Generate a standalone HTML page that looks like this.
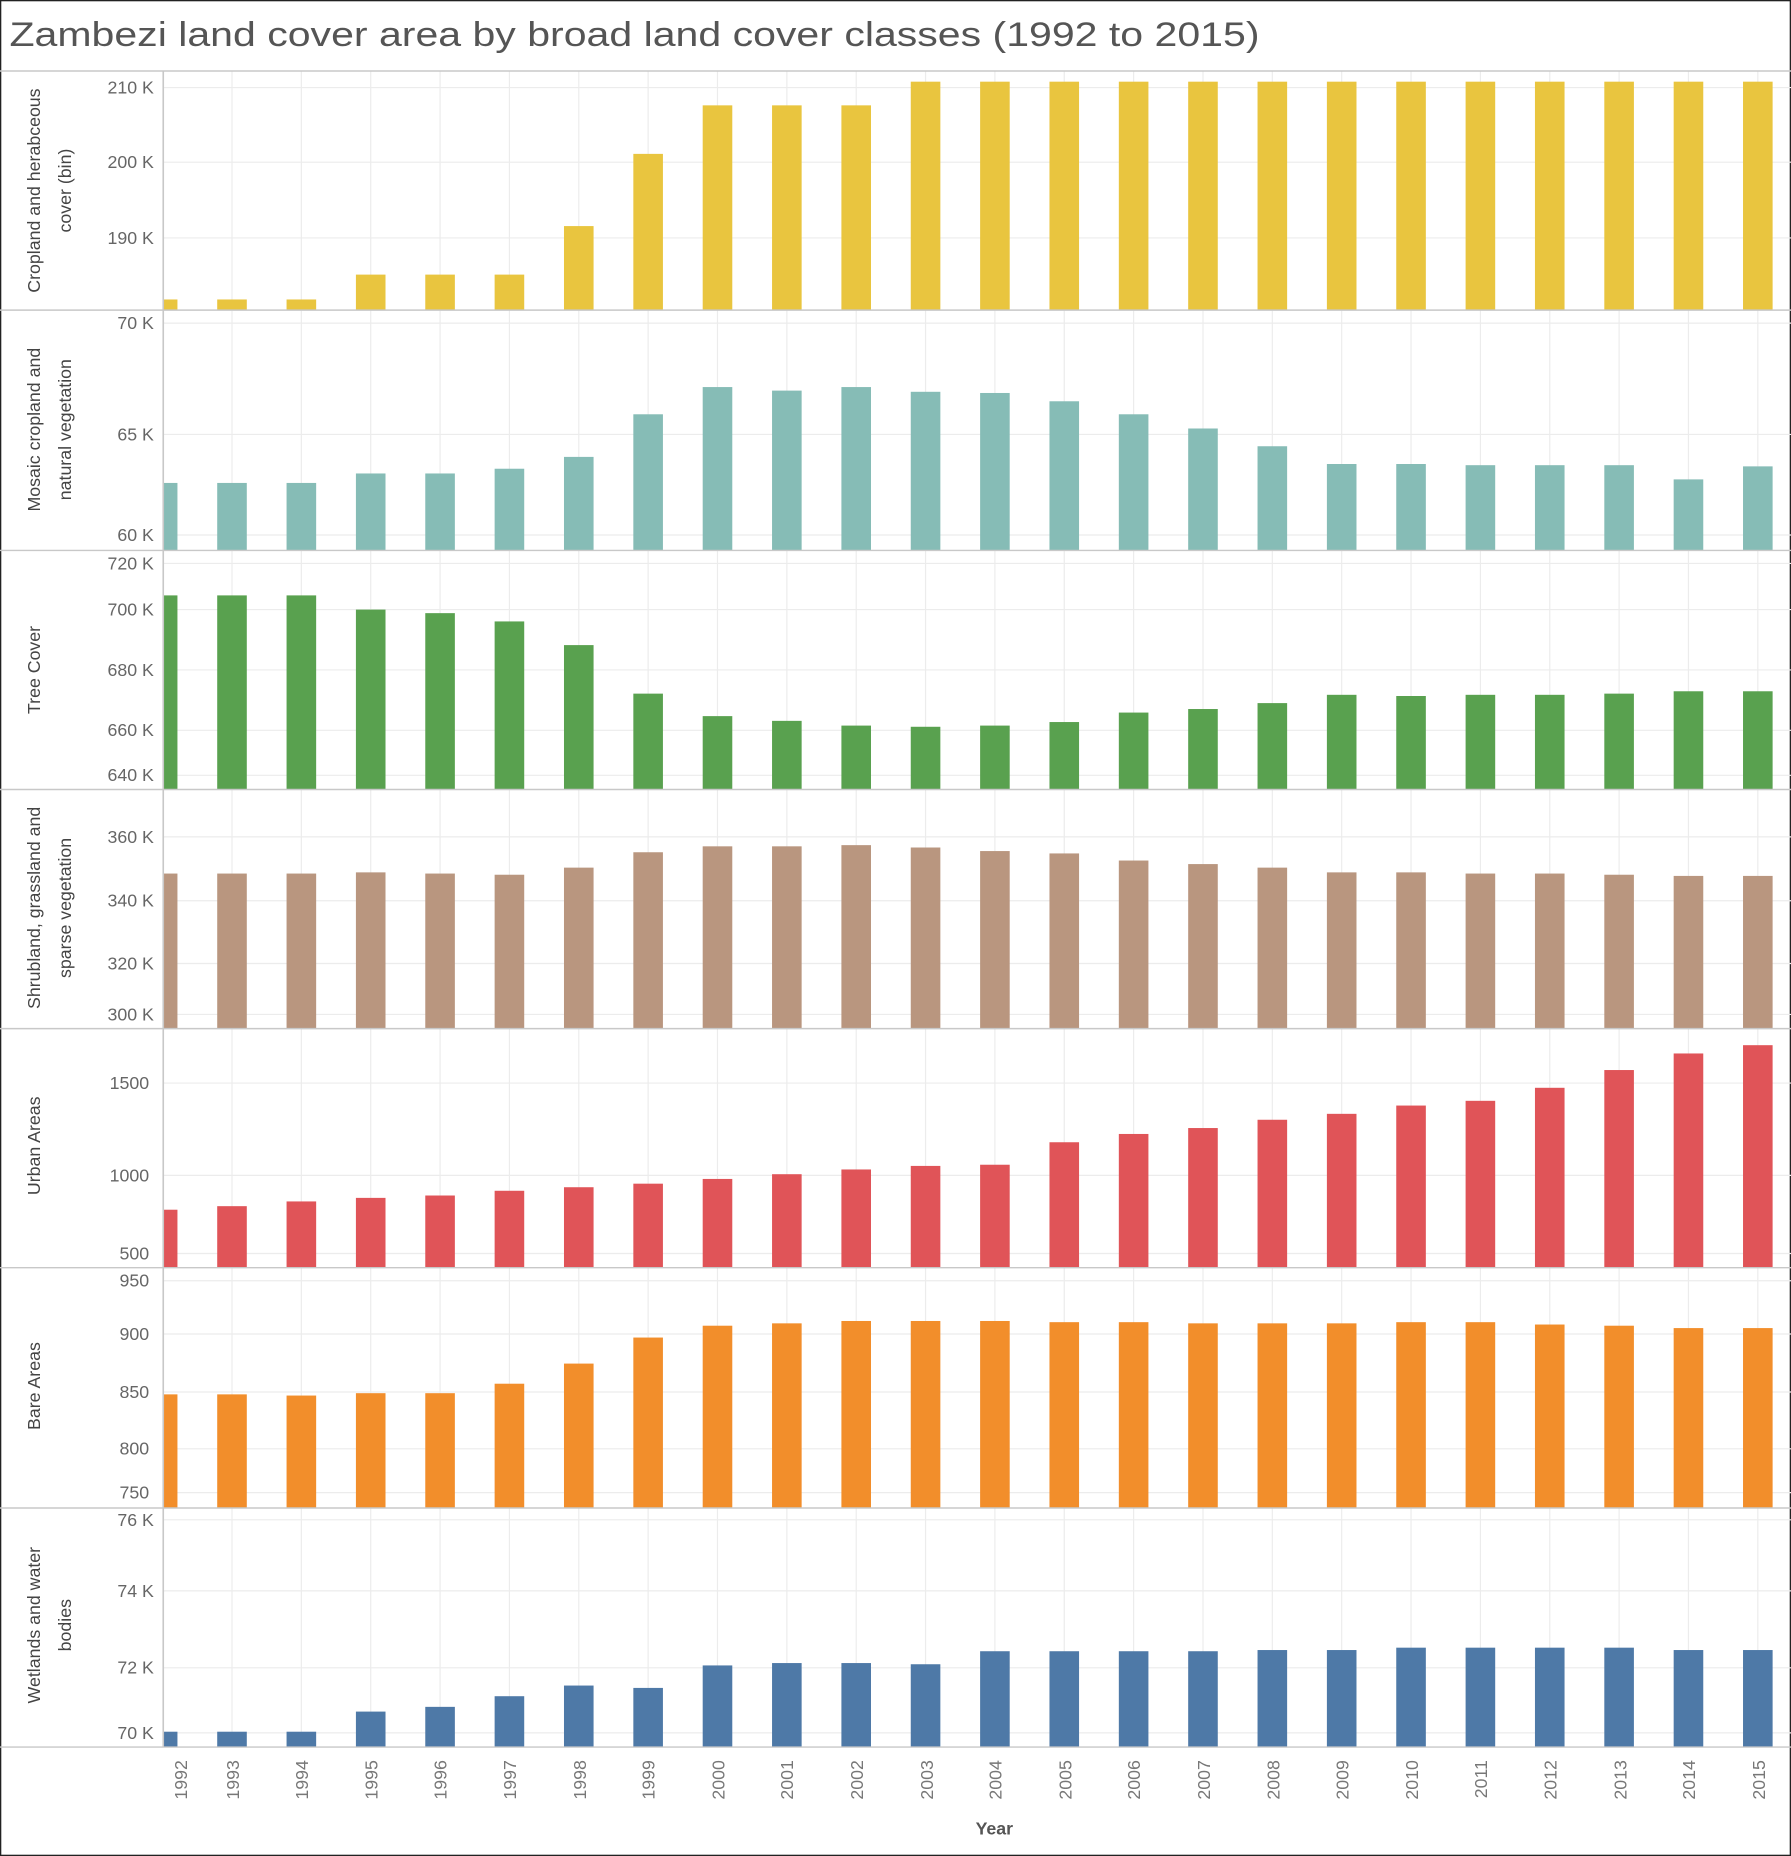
<!DOCTYPE html>
<html><head><meta charset="utf-8"><style>
html,body{margin:0;padding:0;background:#fff;}
svg{display:block;}
text{font-family:"Liberation Sans",sans-serif;}
.t{font-size:15px;fill:#666;text-anchor:end;}
.yr{font-size:15px;fill:#777;text-anchor:end;}
.ax{font-size:15px;fill:#444;text-anchor:middle;}
</style></head><body>
<svg id="s" width="1791" height="1856" viewBox="0 0 1513 1568" preserveAspectRatio="none" xmlns="http://www.w3.org/2000/svg">
<rect x="0.5" y="0.5" width="1512" height="1567" fill="#fff" stroke="#222" stroke-width="1.2"/>
<text x="8" y="39" textLength="1056" lengthAdjust="spacingAndGlyphs" style="font-size:29px;fill:#555;">Zambezi land cover area by broad land cover classes (1992 to 2015)</text>
<defs><clipPath id="cp"><rect x="138" y="60" width="1375" height="1420"/></clipPath></defs>
<g id="grid"></g>
<g id="bars" clip-path="url(#cp)"></g>
<g id="lines"></g>
<text class="t" x="130" y="79">210 K</text><text class="t" x="130" y="142">200 K</text><text class="t" x="130" y="206">190 K</text>
<text class="t" x="130" y="278">70 K</text><text class="t" x="130" y="372">65 K</text><text class="t" x="130" y="457">60 K</text>
<text class="t" x="130" y="481">720 K</text><text class="t" x="130" y="520">700 K</text><text class="t" x="130" y="571">680 K</text><text class="t" x="130" y="622">660 K</text><text class="t" x="130" y="660">640 K</text>
<text class="t" x="130" y="712">360 K</text><text class="t" x="130" y="766">340 K</text><text class="t" x="130" y="819">320 K</text><text class="t" x="130" y="862">300 K</text>
<text class="t" x="126" y="920">1500</text><text class="t" x="126" y="998">1000</text><text class="t" x="126" y="1064">500</text>
<text class="t" x="126" y="1087">950</text><text class="t" x="126" y="1132">900</text><text class="t" x="126" y="1181">850</text><text class="t" x="126" y="1229">800</text><text class="t" x="126" y="1266">750</text>
<text class="t" x="130" y="1289">76 K</text><text class="t" x="130" y="1349">74 K</text><text class="t" x="130" y="1414">72 K</text><text class="t" x="130" y="1469">70 K</text>
<g transform="translate(34,161) rotate(-90)"><text class="ax" x="0" y="0">Cropland and herabceous</text></g>
<g transform="translate(60,161) rotate(-90)"><text class="ax" x="0" y="0">cover (bin)</text></g>
<g transform="translate(34,363) rotate(-90)"><text class="ax" x="0" y="0">Mosaic cropland and</text></g>
<g transform="translate(60,363) rotate(-90)"><text class="ax" x="0" y="0">natural vegetation</text></g>
<g transform="translate(34,566) rotate(-90)"><text class="ax" x="0" y="0">Tree Cover</text></g>
<g transform="translate(34,767) rotate(-90)"><text class="ax" x="0" y="0">Shrubland, grassland and</text></g>
<g transform="translate(60,767) rotate(-90)"><text class="ax" x="0" y="0">sparse vegetation</text></g>
<g transform="translate(34,968) rotate(-90)"><text class="ax" x="0" y="0">Urban Areas</text></g>
<g transform="translate(34,1171) rotate(-90)"><text class="ax" x="0" y="0">Bare Areas</text></g>
<g transform="translate(34,1373) rotate(-90)"><text class="ax" x="0" y="0">Wetlands and water</text></g>
<g transform="translate(60,1373) rotate(-90)"><text class="ax" x="0" y="0">bodies</text></g>
<g transform="translate(158,1487) rotate(-90)"><text class="yr">1992</text></g>
<g transform="translate(202,1487) rotate(-90)"><text class="yr">1993</text></g>
<g transform="translate(260,1487) rotate(-90)"><text class="yr">1994</text></g>
<g transform="translate(319,1487) rotate(-90)"><text class="yr">1995</text></g>
<g transform="translate(377,1487) rotate(-90)"><text class="yr">1996</text></g>
<g transform="translate(436,1487) rotate(-90)"><text class="yr">1997</text></g>
<g transform="translate(495,1487) rotate(-90)"><text class="yr">1998</text></g>
<g transform="translate(553,1487) rotate(-90)"><text class="yr">1999</text></g>
<g transform="translate(612,1487) rotate(-90)"><text class="yr">2000</text></g>
<g transform="translate(670,1487) rotate(-90)"><text class="yr">2001</text></g>
<g transform="translate(729,1487) rotate(-90)"><text class="yr">2002</text></g>
<g transform="translate(788,1487) rotate(-90)"><text class="yr">2003</text></g>
<g transform="translate(846,1487) rotate(-90)"><text class="yr">2004</text></g>
<g transform="translate(905,1487) rotate(-90)"><text class="yr">2005</text></g>
<g transform="translate(963,1487) rotate(-90)"><text class="yr">2006</text></g>
<g transform="translate(1022,1487) rotate(-90)"><text class="yr">2007</text></g>
<g transform="translate(1081,1487) rotate(-90)"><text class="yr">2008</text></g>
<g transform="translate(1139,1487) rotate(-90)"><text class="yr">2009</text></g>
<g transform="translate(1198,1487) rotate(-90)"><text class="yr">2010</text></g>
<g transform="translate(1256,1487) rotate(-90)"><text class="yr">2011</text></g>
<g transform="translate(1315,1487) rotate(-90)"><text class="yr">2012</text></g>
<g transform="translate(1374,1487) rotate(-90)"><text class="yr">2013</text></g>
<g transform="translate(1432,1487) rotate(-90)"><text class="yr">2014</text></g>
<g transform="translate(1491,1487) rotate(-90)"><text class="yr">2015</text></g>
<text x="840" y="1550" style="font-size:15px;font-weight:bold;fill:#555;text-anchor:middle;">Year</text>
</svg>
<script>
var NS="http://www.w3.org/2000/svg",s=document.getElementById('s');
function el(p,t,a){var e=document.createElementNS(NS,t);for(var k in a)e.setAttribute(k,a[k]);document.getElementById(p).appendChild(e);}
var P=[
[60,262,"#E9C53F",[74,137,201],[253,253,253,232,232,232,191,130,89,89,89,69,69,69,69,69,69,69,69,69,69,69,69,69]],
[262,465,"#86BCB6",[273,367,452],[408,408,408,400,400,396,386,350,327,330,327,331,332,339,350,362,377,392,392,393,393,393,405,394]],
[465,667,"#59A14F",[476,515,566,617,655],[503,503,503,515,518,525,545,586,605,609,613,614,613,610,602,599,594,587,588,587,587,586,584,584]],
[667,869,"#B9967F",[707,761,814,857],[738,738,738,737,738,739,733,720,715,715,714,716,719,721,727,730,733,737,737,738,738,739,740,740]],
[869,1071,"#E05458",[915,993,1059],[1022,1019,1015,1012,1010,1006,1003,1000,996,992,988,985,984,965,958,953,946,941,934,930,919,904,890,883]],
[1071,1274,"#F28E2B",[1082,1127,1176,1224,1261],[1178,1178,1179,1177,1177,1169,1152,1130,1120,1118,1116,1116,1116,1117,1117,1118,1118,1118,1117,1117,1119,1120,1122,1122]],
[1274,1476,"#4E79A7",[1284,1344,1409,1464],[1463,1463,1463,1446,1442,1433,1424,1426,1407,1405,1405,1406,1395,1395,1395,1395,1394,1394,1392,1392,1392,1392,1394,1394]]];
for(var i=0;i<24;i++){var c=137.4+58.59*i;el('grid','line',{x1:c,x2:c,y1:60,y2:1476,stroke:'#ececec','stroke-width':1});}
P.forEach(function(p){
 p[3].forEach(function(y){el('grid','line',{x1:138,x2:1513,y1:y,y2:y,stroke:'#ececec','stroke-width':1});});
 for(var i=0;i<24;i++){var c=137.4+58.59*i;el('bars','rect',{x:c-12.5,y:p[4][i],width:25,height:p[1]-p[4][i],fill:p[2]});}
 el('lines','line',{x1:0,x2:1513,y1:p[0],y2:p[0],stroke:'#c8c8c8','stroke-width':1.2});
});
el('lines','line',{x1:0,x2:1513,y1:1476,y2:1476,stroke:'#c8c8c8','stroke-width':1.2});
el('lines','line',{x1:138,x2:138,y1:60,y2:1476,stroke:'#c8c8c8','stroke-width':1.2});
</script>
</body></html>
